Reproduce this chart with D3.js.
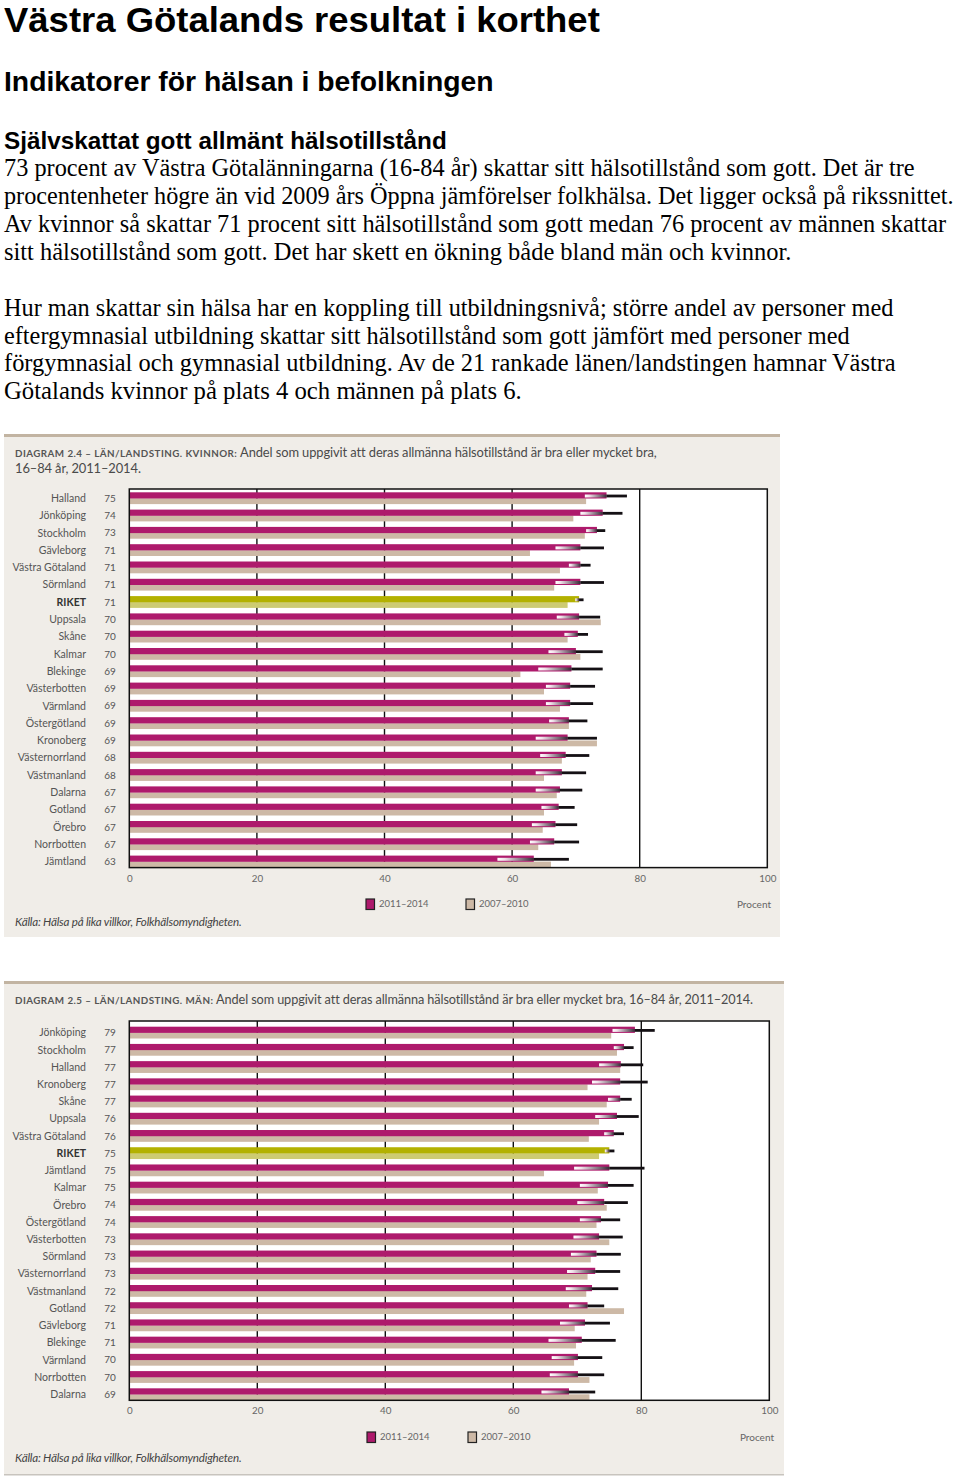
<!DOCTYPE html>
<html><head><meta charset="utf-8">
<script src="https://cdn.jsdelivr.net/npm/d3@7"></script>
<style>body{margin:0;background:#fff}svg{display:block}</style>
</head><body>
<svg id="c" width="960" height="1479"></svg>
<script>
// ---------- text ----------
const headings = ["Västra Götalands resultat i korthet","Indikatorer för hälsan i befolkningen","Självskattat gott allmänt hälsotillstånd"];
const bodyLines = [
"73 procent av Västra Götalänningarna (16-84 år) skattar sitt hälsotillstånd som gott. Det är tre",
"procentenheter högre än vid 2009 års Öppna jämförelser folkhälsa. Det ligger också på rikssnittet.",
"Av kvinnor så skattar 71 procent sitt hälsotillstånd som gott medan 76 procent av männen skattar",
"sitt hälsotillstånd som gott. Det har skett en ökning både bland män och kvinnor.",
"Hur man skattar sin hälsa har en koppling till utbildningsnivå; större andel av personer med",
"eftergymnasial utbildning skattar sitt hälsotillstånd som gott jämfört med personer med",
"förgymnasial och gymnasial utbildning. Av de 21 rankade länen/landstingen hamnar Västra",
"Götalands kvinnor på plats 4 och männen på plats 6."];

// ---------- data: kvinnor ----------
const categoriesK = ["Halland","Jönköping","Stockholm","Gävleborg","Västra Götaland","Sörmland","RIKET","Uppsala","Skåne","Kalmar","Blekinge","Västerbotten","Värmland","Östergötland","Kronoberg","Västernorrland","Västmanland","Dalarna","Gotland","Örebro","Norrbotten","Jämtland"];
const labelsK = [75,74,73,71,71,71,71,70,70,70,69,69,69,69,69,68,68,67,67,67,67,63];
const k2014 = [74.8,74.2,73.3,70.7,70.7,70.7,70.5,70.5,70.3,70.0,69.3,69.1,69.1,68.9,68.7,68.4,67.8,67.5,67.3,66.8,66.6,63.4];
const kLow  = [71.4,70.7,71.6,66.8,68.9,66.8,69.9,67.0,68.2,65.7,64.1,65.3,65.3,65.8,63.7,64.4,63.7,63.7,64.6,63.1,62.8,57.7];
const kHigh = [78.0,77.3,74.6,74.4,72.3,74.4,71.2,73.8,71.9,74.2,74.2,73.0,72.7,71.8,73.3,72.1,71.6,71.0,69.8,70.2,70.5,68.9];
const k2010 = [71.6,69.6,71.4,62.8,67.5,66.6,68.7,73.9,68.7,70.7,61.3,65.0,67.5,68.9,73.3,67.8,65.0,67.0,65.0,64.8,64.1,66.1];

// ---------- data: män ----------
const categoriesM = ["Jönköping","Stockholm","Halland","Kronoberg","Skåne","Uppsala","Västra Götaland","RIKET","Jämtland","Kalmar","Örebro","Östergötland","Västerbotten","Sörmland","Västernorrland","Västmanland","Gotland","Gävleborg","Blekinge","Värmland","Norrbotten","Dalarna"];
const labelsM = [79,77,77,77,77,76,76,75,75,75,74,74,73,73,73,72,72,71,71,70,70,69];
const m2014 = [79.0,77.3,76.8,76.7,76.7,76.2,75.7,75.0,75.0,74.8,74.2,73.7,73.4,73.0,72.8,72.3,71.6,71.2,70.7,70.1,70.1,68.7];
const mLow  = [75.5,75.7,73.4,72.3,74.8,72.8,74.2,74.3,69.5,70.4,70.0,70.4,69.4,69.0,68.4,68.2,68.7,67.3,65.5,66.0,65.7,64.4];
const mHigh = [82.1,78.8,80.3,81.0,78.5,79.6,77.3,75.8,80.5,78.8,77.9,76.7,77.1,76.8,76.7,76.4,74.2,75.1,76.0,73.9,74.2,72.8];
const m2010 = [75.3,76.2,76.7,71.6,74.6,73.4,71.8,73.4,64.8,73.2,74.6,73.0,75.0,72.1,71.6,71.4,77.3,69.6,69.8,69.5,71.9,71.9];

const tickValues = [0,20,40,60,80,100];
const legendLabels = ["2011–2014","2007–2010"];
const sourceText = "Källa: Hälsa på lika villkor, Folkhälsomyndigheten.";

// ---------- drawing ----------
const svg = d3.select("#c");
const serif = "'Liberation Serif','Times New Roman',serif";
const sans = "'Liberation Sans',Arial,sans-serif";
const cf = "Lato,'Open Sans',sans-serif";

function fitText(t, y, family, size, weight, target){
  const el = svg.append("text").attr("x",0).attr("y",0).attr("font-family",family).attr("font-weight",weight)
    .attr("font-size",size).attr("fill","#000").text(t);
  const w = el.node().getComputedTextLength();
  const s = target / w;
  el.attr("transform",`translate(4,${y}) scale(${s},1)`);
}
// headings
const hSpec = [{y:32,size:35,len:596},{y:91,size:28,len:490},{y:149,size:24,len:443}];
headings.forEach((t,i)=>fitText(t,hSpec[i].y,sans,hSpec[i].size,"bold",hSpec[i].len));
const bodyY = [176,204,232,260,316,344,371,399];
const bodyLen = [911,950,943,788,890,846,892,518];
bodyLines.forEach((t,i)=>fitText(t,bodyY[i],serif,24.5,"normal",bodyLen[i]));

const defs = svg.append("defs");
const g = defs.append("linearGradient").attr("id","ci").attr("x1","0").attr("x2","1").attr("y1","0").attr("y2","0");
g.append("stop").attr("offset","0").attr("stop-color","#ffffff");
g.append("stop").attr("offset","0.2").attr("stop-color","#f0e2ea");
g.append("stop").attr("offset","1").attr("stop-color","#3a2a38");

const MAG="#ae1a6c", TAN="#cdb9a6", OLIVE="#b3b100", OLIVE2="#cdcb72";

function drawChart(c){
  const p = svg.append("g");
  p.append("rect").attr("x",4).attr("y",c.panelTop).attr("width",c.panelW).attr("height",c.panelBottom-c.panelTop).attr("fill","#f0ede8");
  p.append("rect").attr("x",4).attr("y",c.panelTop-3).attr("width",c.panelW).attr("height",3).attr("fill","#c2b4a2");
  if(c.bottomLine) p.append("rect").attr("x",4).attr("y",c.panelBottom).attr("width",c.panelW).attr("height",1.5).attr("fill","#c8c4be");

  // title
  c.title.forEach((ln,i)=>{
    const t = p.append("text").attr("x",15).attr("y",c.titleY+i*16).attr("font-family",cf).attr("fill","#4a4a4a");
    if(ln.caps) t.append("tspan").attr("font-size",9.8).attr("font-weight",700).attr("letter-spacing",0.45).attr("fill","#555").text(ln.caps);
    t.append("tspan").attr("font-size",c.titleSize).attr("letter-spacing",-0.1).text(ln.rest);
  });

  const x = d3.scaleLinear().domain([0,100]).range([c.plotLeft,c.plotRight]);
  const n = c.cats.length;
  const y = d3.scaleBand().domain(c.cats).range([c.firstBar, c.firstBar + c.band*n]).padding(0);

  p.append("rect").attr("x",x(0)).attr("y",c.plotTop).attr("width",x(100)-x(0)).attr("height",c.plotBottom-c.plotTop).attr("fill","#fff");
  p.selectAll(".grid").data(tickValues.filter(d=>d>0&&d<100)).join("line")
    .attr("x1",d=>x(d)).attr("x2",d=>x(d)).attr("y1",c.plotTop).attr("y2",c.plotBottom)
    .attr("stroke","#111").attr("stroke-width",1.4);

  const rows = c.cats.map((cat,i)=>({cat,v:c.v14[i],lo:c.lo[i],hi:c.hi[i],o:c.v10[i],lab:c.labels[i]}));
  p.selectAll(".b10").data(rows).join("rect")
    .attr("x",x(0)).attr("y",d=>y(d.cat)+6).attr("width",d=>x(d.o)-x(0)).attr("height",5.8)
    .attr("fill",d=>d.cat==="RIKET"?OLIVE2:TAN);
  p.selectAll(".b14").data(rows).join("rect")
    .attr("x",x(0)).attr("y",d=>y(d.cat)).attr("width",d=>x(d.v)-x(0)).attr("height",6.2)
    .attr("fill",d=>d.cat==="RIKET"?OLIVE:MAG);
  p.selectAll(".cil").data(rows).join("rect")
    .attr("x",d=>x(d.lo)).attr("y",d=>y(d.cat)+2.2).attr("width",d=>x(d.v)-x(d.lo)).attr("height",3)
    .attr("fill","url(#ci)");
  p.selectAll(".cih").data(rows).join("rect")
    .attr("x",d=>x(d.v)).attr("y",d=>y(d.cat)+2.3).attr("width",d=>x(d.hi)-x(d.v)).attr("height",2.8)
    .attr("fill","#141014");

  p.append("rect").attr("x",x(0)).attr("y",c.plotTop).attr("width",x(100)-x(0)).attr("height",c.plotBottom-c.plotTop)
    .attr("fill","none").attr("stroke","#111").attr("stroke-width",1.5);

  // row labels
  p.selectAll(".lab").data(rows).join("text")
    .attr("x",86).attr("y",d=>y(d.cat)+6).attr("dy","0.35em").attr("text-anchor","end")
    .attr("font-family",cf).attr("font-size",10.5).attr("fill",d=>d.cat==="RIKET"?"#333":"#555")
    .attr("font-weight",d=>d.cat==="RIKET"?700:400).text(d=>d.cat);
  p.selectAll(".val").data(rows).join("text")
    .attr("x",110).attr("y",d=>y(d.cat)+6).attr("dy","0.35em").attr("text-anchor","middle")
    .attr("font-family",cf).attr("font-size",10).attr("fill","#555").text(d=>d.lab);

  // axis
  const ax = p.append("g").attr("transform",`translate(0,${c.tickY})`)
    .call(d3.axisBottom(x).tickValues(tickValues).tickSize(0).tickPadding(0).tickFormat(d3.format("d")));
  ax.select(".domain").remove();
  ax.selectAll("text").attr("font-family",cf).attr("font-size",9.8).attr("fill","#666").attr("dy","0.35em").attr("y",0);

  // legend
  const lg = [{c:MAG,x:c.leg1},{c:TAN,x:c.leg2}];
  lg.forEach((l,i)=>{
    p.append("rect").attr("x",l.x).attr("y",c.legY-5).attr("width",8.5).attr("height",10.5)
      .attr("fill",l.c).attr("stroke","#222").attr("stroke-width",1.2);
    p.append("text").attr("x",l.x+13).attr("y",c.legY).attr("dy","0.35em").attr("font-family",cf)
      .attr("font-size",9.5).attr("fill","#666").text(legendLabels[i]);
  });
  p.append("text").attr("x",c.procentX).attr("y",c.legY).attr("dy","0.35em").attr("text-anchor","end")
    .attr("font-family",cf).attr("font-size",10).attr("fill","#666").text("Procent");
  p.append("text").attr("x",15).attr("y",c.sourceY).attr("font-family",cf).attr("font-style","italic")
    .attr("font-size",11.6).attr("letter-spacing",-0.2).attr("fill","#444").text(sourceText);
}

drawChart({
  panelTop:437, panelBottom:937, panelW:776,
  title:[{caps:"DIAGRAM 2.4 – LÄN/LANDSTING. KVINNOR:",rest:" Andel som uppgivit att deras allmänna hälsotillstånd är bra eller mycket bra,"},{rest:"16–84 år, 2011–2014."}],
  titleY:457, titleSize:12.9,
  plotLeft:129.3, plotRight:767.3, plotTop:489, plotBottom:867.6, firstBar:492.3, band:17.3,
  cats:categoriesK, v14:k2014, lo:kLow, hi:kHigh, v10:k2010, labels:labelsK,
  tickY:878.5, legY:904, leg1:366, leg2:466, procentX:771, sourceY:926
});
drawChart({
  panelTop:984, panelBottom:1474, panelW:780, bottomLine:true,
  title:[{caps:"DIAGRAM 2.5 – LÄN/LANDSTING. MÄN:",rest:" Andel som uppgivit att deras allmänna hälsotillstånd är bra eller mycket bra, 16–84 år, 2011–2014."}],
  titleY:1004, titleSize:12.7,
  plotLeft:129.3, plotRight:769.3, plotTop:1021, plotBottom:1400.3, firstBar:1026.7, band:17.22,
  cats:categoriesM, v14:m2014, lo:mLow, hi:mHigh, v10:m2010, labels:labelsM,
  tickY:1411, legY:1437, leg1:367, leg2:468, procentX:774, sourceY:1462
});
</script>
</body></html>
